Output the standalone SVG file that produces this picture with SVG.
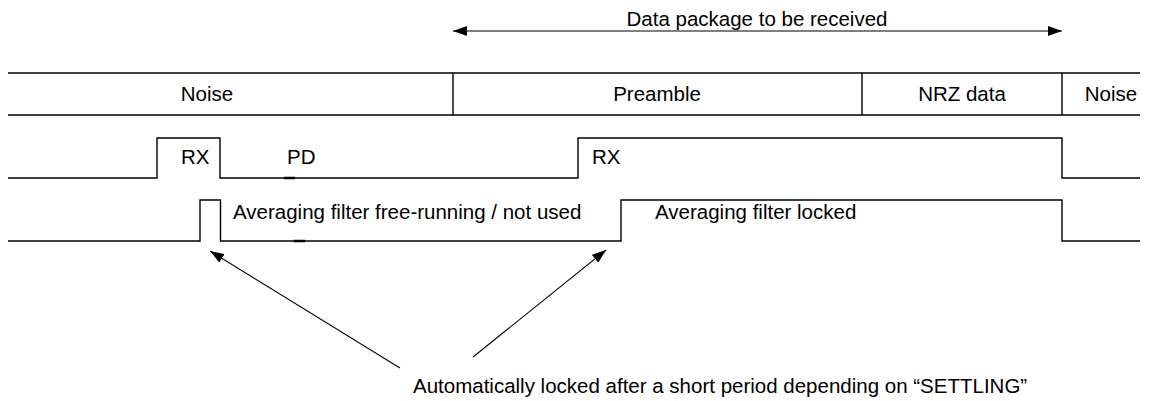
<svg xmlns="http://www.w3.org/2000/svg" width="1155" height="401" viewBox="0 0 1155 401">
<style>
text{font-family:"Liberation Sans",Arial,sans-serif;font-size:20.5px;fill:#000}
.w{fill:none;stroke:#000;stroke-width:1.4}
.c{fill:none;stroke:#000;stroke-width:1.1}
.m{text-anchor:middle}
</style>
<defs>
<marker id="ah" viewBox="0 0 14 10" refX="14" refY="5" markerWidth="14" markerHeight="10" markerUnits="userSpaceOnUse" orient="auto-start-reverse">
<path d="M0,0 L14,5 L0,10 Z" fill="#000"/>
</marker>
</defs>
<rect width="1155" height="401" fill="#fff"/>
<g id="package">
<text class="m" x="757" y="26">Data package to be received</text>
</g>
<g id="frame">
<path class="w" d="M8,73 H1140 M8,115 H1140 M453,73 V115 M862,73 V115 M1062,73 V115"/>
<text class="m" x="207" y="101">Noise</text>
<text class="m" x="657" y="101">Preamble</text>
<text class="m" x="962" y="101">NRZ data</text>
<text class="m" x="1111" y="101">Noise</text>
</g>
<g id="rx-signal">
<path class="w" d="M8,178 H157 V138 H220 V178 H578 V138 H1062 V178 H1140"/>
<path d="M284,178 H295" stroke="#000" stroke-width="2.5"/>
<text x="181" y="164">RX</text>
<text x="287" y="164">PD</text>
<text x="592" y="164">RX</text>
</g>
<g id="filter-signal">
<path class="w" d="M8,241 H200 V200 H220.5 V241 H621 V200 H1062 V241 H1140"/>
<path d="M294,241 H305" stroke="#000" stroke-width="2.5"/>
<text x="233" y="219">Averaging filter free-running / not used</text>
<text x="655" y="219">Averaging filter locked</text>
</g>
<g id="note">
<text x="413" y="393">Automatically locked after a short period depending on “SETTLING”</text>
</g>
<g id="connectors">
<line class="c" x1="453" y1="31" x2="1062" y2="31" marker-start="url(#ah)" marker-end="url(#ah)"/>
<line class="c" x1="400" y1="368" x2="210" y2="251" marker-end="url(#ah)"/>
<line class="c" x1="473" y1="357" x2="606" y2="250" marker-end="url(#ah)"/>
</g>
</svg>
